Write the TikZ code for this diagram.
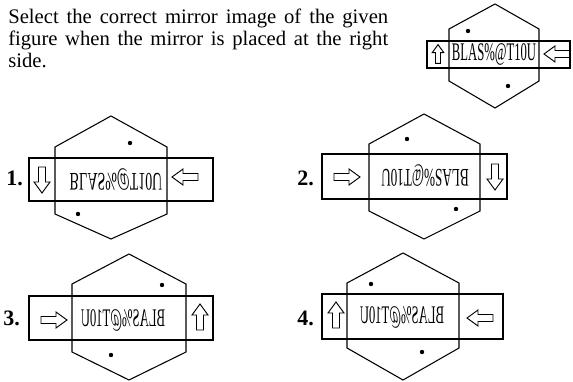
\documentclass[tikz,border=0pt]{standalone}
\usepackage{fontspec}
\setmainfont{Liberation Serif}
\usepackage{tikz}

\tikzset{
  fig/.style={line width=0.8pt},
  question/.style={anchor=base west, inner sep=0pt, font=\fontsize{15.5}{18}\selectfont},
  optlabel/.style={anchor=base west, inner sep=0pt, font=\fontsize{16.5}{16.5}\selectfont\bfseries},
  mirtext/.style={inner sep=0pt, font=\fontsize{19}{19}\selectfont},
  blockarrow/.pic={
    \draw[line width=0.7pt] (-13,-3.5) -- (2,-3.5) -- (2,-8) -- (13,0) -- (2,8) -- (2,3.5) -- (-13,3.5) -- cycle;
  }
}

\begin{document}
\begin{tikzpicture}[x=0.75pt, y=-0.75pt]
\useasboundingbox (0,0) rectangle (573,381);

% Question
\node[question] (q1) at (8,24) {\hbox to 285pt{Select the correct mirror image of the given}};
\node[question] (q2) at (8,46) {\hbox to 285pt{figure when the mirror is placed at the right}};
\node[question] (q3) at (8,68) {side.};

% Given figure
\draw[fig] (495,4) -- (539,29) -- (539,81) -- (495,108) -- (449,81) -- (449,29) -- cycle;
\draw[fig] (427,41) rectangle (570,68);
\node[mirtext] (given) at (494,54) {\scalebox{0.5}[1]{BLAS\%@T10U}};
\pic[rotate=90, scale=0.72] at (438,54) {blockarrow};
\pic[rotate=180] at (557,54) {blockarrow};
\fill (468,31) circle (2.2);
\fill (508,86) circle (2.2);

% Option 1
\node[optlabel] (l1) at (6,185) {1.};
\draw[fig] (111,116) -- (167,147) -- (167,214) -- (111,239) -- (55,214) -- (55,147) -- cycle;
\draw[fig] (29,158) rectangle (213,201);
\node[mirtext] (opt1) at (116,180) {\scalebox{0.55}[-1]{BLAS\%@T10U}};
\pic[rotate=-90] at (42,180) {blockarrow};
\pic[rotate=180] at (185,177) {blockarrow};
\fill (130,143) circle (2.2);
\fill (78,214) circle (2.2);

% Option 2
\node[optlabel] (l2) at (297,185) {2.};
\draw[fig] (424,114) -- (480,144) -- (480,211) -- (424,239) -- (369,211) -- (369,144) -- cycle;
\draw[fig] (322,154) rectangle (507,199);
\node[mirtext] (opt2) at (425,176) {\scalebox{-0.52}[-1]{BLAS\%@T10U}};
\pic at (347,177) {blockarrow};
\pic[rotate=-90] at (495,177) {blockarrow};
\fill (407,139) circle (2.2);
\fill (456,209) circle (2.2);

% Option 3
\node[optlabel] (l3) at (3,325) {3.};
\draw[fig] (129,254) -- (186,284) -- (186,352) -- (129,380) -- (72,352) -- (72,284) -- cycle;
\draw[fig] (29,296) rectangle (213,340);
\node[mirtext] (opt3) at (123,320) {\scalebox{-0.5}[1]{BLAS\%@T10U}};
\pic at (54,320) {blockarrow};
\pic[rotate=90] at (200,317) {blockarrow};
\fill (162,285) circle (2.2);
\fill (111,355) circle (2.2);

% Option 4
\node[optlabel] (l4) at (297,325) {4.};
\draw[fig] (403,253) -- (459,283) -- (459,348) -- (403,380) -- (347,348) -- (347,283) -- cycle;
\draw[fig] (322,294) rectangle (503,339);
\node[mirtext] (opt4) at (402,317) {\scalebox{-0.5}[1]{BLAS\%@T10U}};
\pic[rotate=90] at (336,315) {blockarrow};
\pic[rotate=180] at (480,318) {blockarrow};
\fill (371,284) circle (2.2);
\fill (422,352) circle (2.2);

\end{tikzpicture}
\end{document}
